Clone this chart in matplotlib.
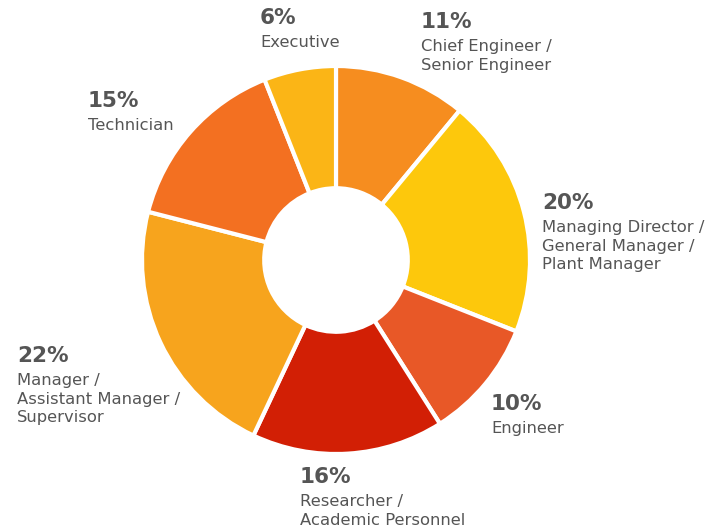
import matplotlib.pyplot as plt

categories = ['Chief Engineer /\nSenior Engineer',
              'Managing Director /\nGeneral Manager /\nPlant Manager',
              'Engineer',
              'Researcher /\nAcademic Personnel',
              'Manager /\nAssistant Manager /\nSupervisor',
              'Technician',
              'Executive']
shares = [11, 20, 10, 16, 22, 15, 6]
colors = ['#F68D1F', '#FDC80C', '#E85827', '#D21F05', '#F7A41D', '#F37021', '#FBB516']

# label anchor (left x, top y of the percent) in pixels from the top-left
label_pos = [(421, 12), (542, 193), (491, 394), (300, 467), (17, 346), (88, 91), (260, 8)]

W, H = 723, 528
fig = plt.figure(figsize=(W / 100, H / 100), dpi=100)
ax = fig.add_axes([0, 0, 1, 1])

R = 194
ax.pie(shares, colors=colors, startangle=90, counterclock=False,
       center=(336, H - 260), radius=R, frame=True,
       wedgeprops=dict(width=R * 0.63, edgecolor='white', linewidth=3))
ax.set_xlim(0, W)
ax.set_ylim(0, H)
ax.set_aspect('equal')
ax.axis('off')

font = 'DejaVu Sans'
for cat, val, (x, y) in zip(categories, shares, label_pos):
    ax.text(x, H - y, f'{val}%', ha='left', va='top', fontsize=15.5,
            fontweight='bold', color='#555555', family=font)
    ax.text(x, H - y - 27, cat, ha='left', va='top', fontsize=11.8,
            color='#555555', family=font, linespacing=1.3)

fig.savefig('out.png', dpi=100)
